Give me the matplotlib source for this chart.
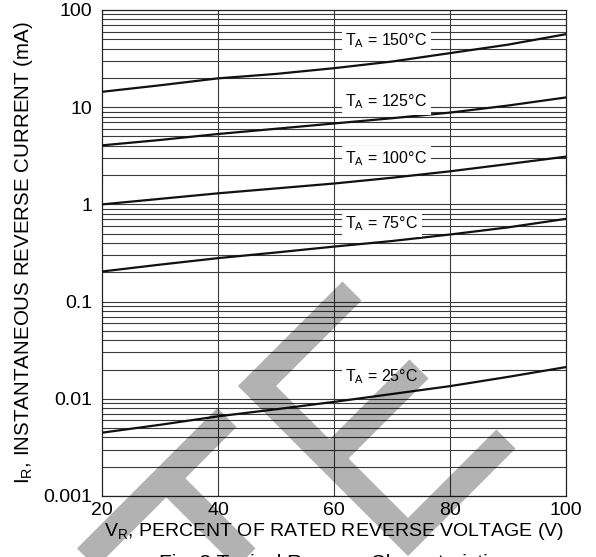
import matplotlib
matplotlib.use('Agg')
import matplotlib.pyplot as plt
import numpy as np
from matplotlib.lines import Line2D
from matplotlib.ticker import FixedLocator, NullFormatter

plt.rcParams['font.family'] = ['Liberation Sans', 'DejaVu Sans']
plt.rcParams['mathtext.default'] = 'regular'

# Percent of rated reverse voltage
v_pct = [20, 30, 40, 50, 60, 70, 80, 90, 100]

# Instantaneous reverse current (mA) per ambient temperature
ir_150 = [14.4, 16.8, 19.8, 22.0, 25.2, 29.5, 36.0, 44.0, 56.4]
ir_125 = [4.05, 4.6, 5.3, 6.0, 6.8, 7.7, 8.8, 10.4, 12.6]
ir_100 = [1.0, 1.14, 1.3, 1.46, 1.64, 1.88, 2.19, 2.6, 3.1]
ir_75 = [0.204, 0.24, 0.28, 0.32, 0.368, 0.42, 0.49, 0.58, 0.71]
ir_25 = [0.00448, 0.0054, 0.0066, 0.0078, 0.0093, 0.0112, 0.0135, 0.0168, 0.0212]

series = [ir_150, ir_125, ir_100, ir_75, ir_25]
temp_labels = ['150°C', '125°C', '100°C', '75°C', '25°C']
label_y = [43.5, 10.2, 2.64, 0.564, 0.01524]
label_x = 61.9

x_ticks = [20, 40, 60, 80, 100]
y_ticks = [0.001, 0.01, 0.1, 1, 10, 100]
y_ticklabels = ['0.001', '0.01', '0.1', '1', '10', '100']

W, H = 596, 557
fig = plt.figure(figsize=(W / 100, H / 100), dpi=100)
ax = fig.add_axes([102 / W, 1 - 496 / H, 464 / W, 486 / H])

ax.set_yscale('log')
ax.set_xlim(20, 100)
ax.set_ylim(0.001, 100)

# grid: decades + 2..9 minor lines, verticals at every 20%
grid_kw = dict(color='#3a3a3a', linewidth=0.8, zorder=1)
for dec in [0.001, 0.01, 0.1, 1, 10]:
    for m in range(1, 10):
        ax.axhline(dec * m, **grid_kw)
for xv in [40, 60, 80]:
    ax.axvline(xv, **grid_kw)

for ys in series:
    ax.plot(v_pct, ys, color='#111111', linewidth=1.6, zorder=3)

for lab, ly in zip(temp_labels, label_y):
    ax.text(label_x, ly, 'T$_{A}$ = ' + lab, fontsize=11.5, ha='left', va='baseline',
            zorder=4, bbox=dict(facecolor='white', edgecolor='none', pad=2.5))

ax.xaxis.set_major_locator(FixedLocator(x_ticks))
ax.yaxis.set_major_locator(FixedLocator(y_ticks))
ax.set_yticklabels(y_ticklabels)
ax.yaxis.set_minor_formatter(NullFormatter())
ax.tick_params(which='both', length=0, labelsize=14)
ax.tick_params(axis='y', pad=7)
ax.tick_params(axis='x', pad=4)
for s in ax.spines.values():
    s.set_linewidth(0.9)
    s.set_color('#222222')

ax.set_xlabel('V$_{R}$, PERCENT OF RATED REVERSE VOLTAGE (V)', fontsize=14, labelpad=2)
ax.set_ylabel('I$_{R}$, INSTANTANEOUS REVERSE CURRENT (mA)', fontsize=14.8, labelpad=6)

fig.text(334 / W, 1 - 569 / H, 'Fig. 3 Typical Reverse Characteristics', fontsize=15,
         ha='center', va='baseline')

# gray watermark strokes (pixel coordinates of the sample stamp)
wm = [
    [(352, 291), (257, 386), (408, 537), (506, 439)],
    [(419, 369), (326, 462)],
    [(227, 417.5), (50, 594.5)],
    [(166, 478), (280, 592)],
]
xs, ys = [], []
for poly in wm:
    for px, py in poly:
        xs.append(px / W)
        ys.append(1 - py / H)
    xs.append(np.nan)
    ys.append(np.nan)
fig.add_artist(Line2D(xs, ys, transform=fig.transFigure, color='black', alpha=0.3,
                      linewidth=27 * 0.72, solid_capstyle='butt', solid_joinstyle='miter',
                      zorder=10))

fig.savefig('out.png', dpi=100)
